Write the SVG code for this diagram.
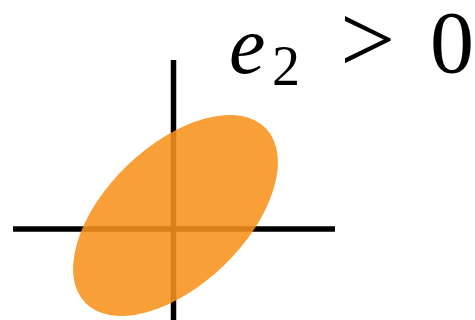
<svg xmlns="http://www.w3.org/2000/svg" width="475" height="320" viewBox="0 0 475 320">
<style>
.axis{stroke:#000;stroke-width:5.5;fill:none}
.blob{fill:#F7921C;fill-opacity:0.88}
.m{font-family:"Liberation Serif","Times New Roman",serif;fill:#000}
</style>
<rect width="475" height="320" fill="#fff"/>
<g id="axes">
<line class="axis" x1="173.5" y1="60" x2="173.5" y2="320"/>
<line class="axis" x1="13" y1="229" x2="335" y2="229"/>
</g>
<g id="ellipse">
<ellipse class="blob" cx="175.5" cy="215.5" rx="125.5" ry="69.6" transform="rotate(-44 175.5 215.5)"/>
</g>
<g id="label">
<text class="m" x="229" y="73" font-size="82" font-style="italic">e</text>
<text class="m" x="272" y="85" font-size="56">2</text>
<text class="m" x="340" y="72" font-size="98">&gt;</text>
<text class="m" x="430" y="72" font-size="88">0</text>
</g>
</svg>
